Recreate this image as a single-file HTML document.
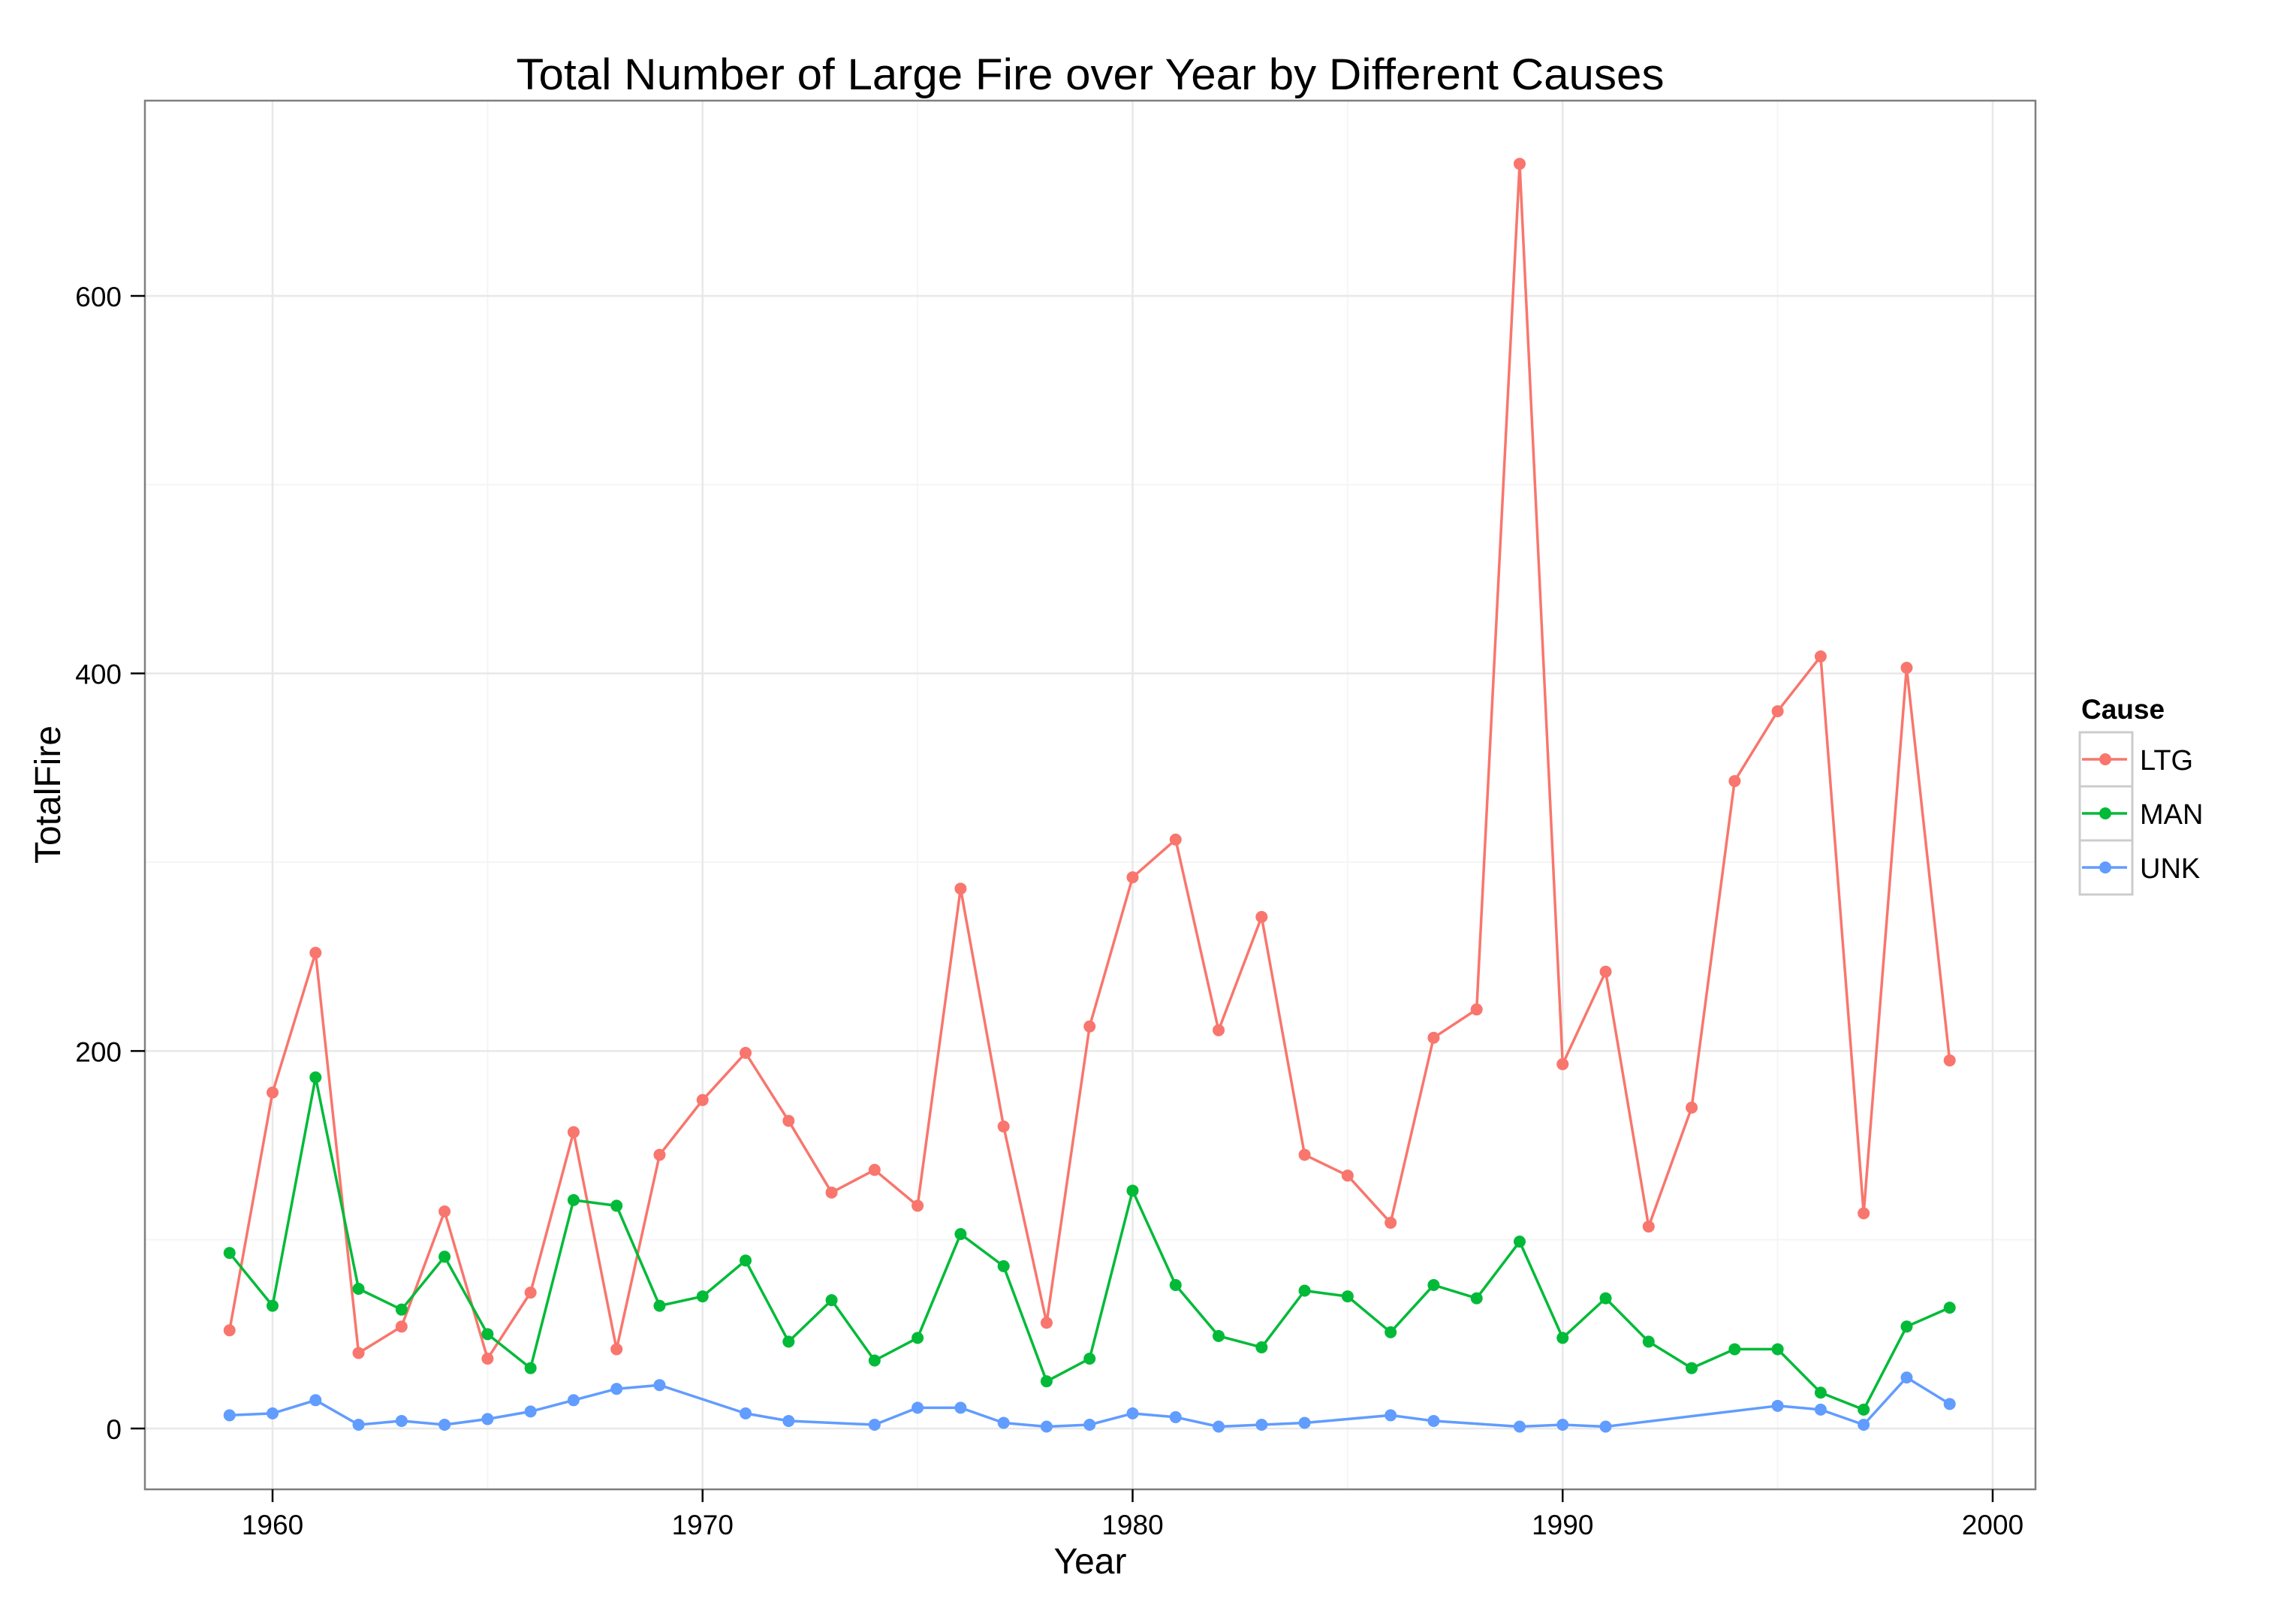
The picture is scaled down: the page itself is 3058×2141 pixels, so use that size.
<!DOCTYPE html>
<html><head><meta charset="utf-8"><style>
html,body{margin:0;padding:0;background:#fff}
svg{display:block;font-family:"Liberation Sans",Arial,sans-serif}
</style></head><body>
<svg id="chart" width="3058" height="2141" viewBox="0 0 3058 2141" xmlns="http://www.w3.org/2000/svg">
<rect x="0" y="0" width="3058" height="2141" fill="#fff"/>
<g id="grid"></g>
<g id="series"></g>
<rect x="193" y="134" width="2518" height="1849" fill="none" stroke="#7f7f7f" stroke-width="2.5"/>
<g id="axes"></g>
<text x="1452" y="119" font-size="58" text-anchor="middle" textLength="1529" lengthAdjust="spacingAndGlyphs">Total Number of Large Fire over Year by Different Causes</text>
<text x="1452" y="2095" font-size="48" text-anchor="middle">Year</text>
<text x="80" y="1058" font-size="48" text-anchor="middle" transform="rotate(-90 80 1058)">TotalFire</text>
<g id="legend">
<text x="2772" y="957" font-size="37" font-weight="bold">Cause</text>
</g>
</svg>
<script>
const ltgYears=[1959,1960,1961,1962,1963,1964,1965,1966,1967,1968,1969,1970,1971,1972,1973,1974,1975,1976,1977,1978,1979,1980,1981,1982,1983,1984,1985,1986,1987,1988,1989,1990,1991,1992,1993,1994,1995,1996,1997,1998,1999];
const ltgValues=[52,178,252,40,54,115,37,72,157,42,145,174,199,163,125,137,118,286,160,56,213,292,312,211,271,145,134,109,207,222,670,193,242,107,170,343,380,409,114,403,195];
const manYears=ltgYears;
const manValues=[93,65,186,74,63,91,50,32,121,118,65,70,89,46,68,36,48,103,86,25,37,126,76,49,43,73,70,51,76,69,99,48,69,46,32,42,42,19,10,54,64];
const unkYears=[1959,1960,1961,1962,1963,1964,1965,1966,1967,1968,1969,1971,1972,1974,1975,1976,1977,1978,1979,1980,1981,1982,1983,1984,1986,1987,1989,1990,1991,1995,1996,1997,1998,1999];
const unkValues=[7,8,15,2,4,2,5,9,15,21,23,8,4,2,11,11,3,1,2,8,6,1,2,3,7,4,1,2,1,12,10,2,27,13];
const xTicks=[1960,1970,1980,1990,2000];
const yTicks=[0,200,400,600];
const seriesNames=["LTG","MAN","UNK"];
const seriesColors=["#F8766D","#00BA38","#619CFF"];

const NS="http://www.w3.org/2000/svg";
const X0=193,X1=2711,Y0=134,Y1=1983;
function xs(v){return 363+(v-1960)*57.275;}
function ys(v){return 1902-v*2.5133;}
function mk(tag,attrs,parent){const e=document.createElementNS(NS,tag);for(const k in attrs)e.setAttribute(k,attrs[k]);parent.appendChild(e);return e;}
const grid=document.getElementById('grid'),axes=document.getElementById('axes'),ser=document.getElementById('series'),leg=document.getElementById('legend');
// minor grid
for(let i=0;i<xTicks.length-1;i++){const m=(xTicks[i]+xTicks[i+1])/2;
 const l=mk('line',{x1:xs(m),x2:xs(m),y1:Y0,y2:Y1,stroke:'#f5f5f5','stroke-width':2},grid);
 
 }
for(let i=0;i<yTicks.length-1;i++){const m=(yTicks[i]+yTicks[i+1])/2;
 const l=mk('line',{x1:X0,x2:X1,y1:ys(m),y2:ys(m),stroke:'#f5f5f5','stroke-width':2},grid);
 
 }
xTicks.forEach(t=>{
 const g=mk('line',{x1:xs(t),x2:xs(t),y1:Y0,y2:Y1,stroke:'#e8e8e8','stroke-width':2.5},grid);
 
 
 const tk=mk('line',{x1:xs(t),x2:xs(t),y1:Y1,y2:Y1+17,stroke:'#000','stroke-width':2.5},axes);
 
 
 const tx=mk('text',{x:xs(t),y:2043,'font-size':37,'text-anchor':'middle'},axes);tx.textContent=t;
 
 
});
yTicks.forEach(t=>{
 const g=mk('line',{x1:X0,x2:X1,y1:ys(t),y2:ys(t),stroke:'#e8e8e8','stroke-width':2.5},grid);
 
 
 const tk=mk('line',{x1:174,x2:X0,y1:ys(t),y2:ys(t),stroke:'#000','stroke-width':2.5},axes);
 
 
 const tx=mk('text',{x:162,y:ys(t)+14,'font-size':37,'text-anchor':'end'},axes);tx.textContent=t;
 
 
});
const data=[[ltgYears,ltgValues],[manYears,manValues],[unkYears,unkValues]];
data.forEach((d,si)=>{
 const c=seriesColors[si];
 const pts=d[0].map((yr,i)=>xs(yr).toFixed(1)+','+ys(d[1][i]).toFixed(1)).join(' ');
 const pl=mk('polyline',{points:pts,fill:'none',stroke:c,'stroke-width':3.5,'stroke-linejoin':'round'},ser);
 
 
 d[0].forEach((yr,i)=>{
  const p=mk('circle',{cx:xs(yr),cy:ys(d[1][i]),r:8,fill:c},ser);
  
  
 });
 const top=975+si*72;
 const r=mk('rect',{x:2770,y:top,width:70,height:72,fill:'#fff',stroke:'#cccccc','stroke-width':3},leg);
 
 
 const ll=mk('line',{x1:2773,x2:2833,y1:top+36,y2:top+36,stroke:c,'stroke-width':3.5},leg);
 
 
 const lc=mk('circle',{cx:2804,cy:top+36,r:8,fill:c},leg);
 
 
 const lt=mk('text',{x:2850,y:top+50,'font-size':38},leg);lt.textContent=seriesNames[si];
 
 
});
</script>
</body></html>
